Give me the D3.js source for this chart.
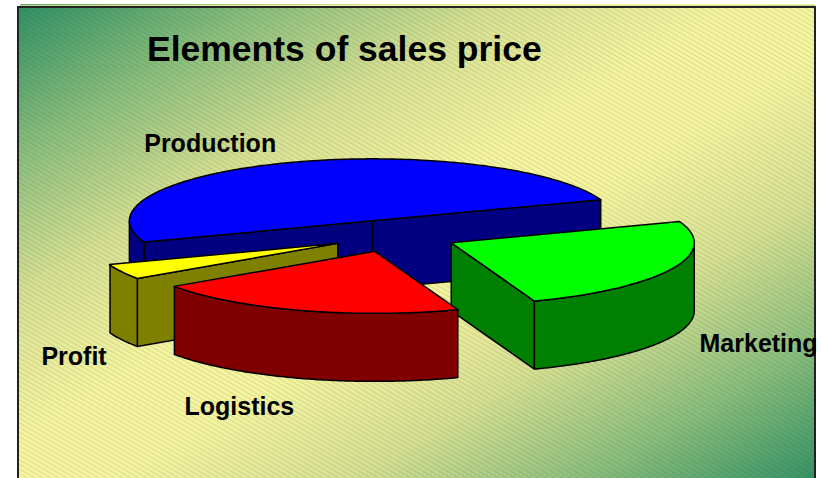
<!DOCTYPE html>
<html>
<head>
<meta charset="utf-8">
<script src="https://cdn.jsdelivr.net/npm/d3@7"></script>
<style>
  html, body { margin: 0; padding: 0; background: #fff; }
  svg { display: block; }
</style>
</head>
<body>
<div id="chart"></div>
<script>
// données
const categories = ["Production", "Marketing", "Logistics", "Profit"];
const values = [50, 25, 21, 4];
const title = "Elements of sales price";

// couleurs (dessus / côtés)
const topColors = ["#0000ff", "#00ff00", "#ff0000", "#ffff00"];
const sideColors = ["#000080", "#008000", "#800000", "#808000"];

// décalage des étiquettes (mise en page)
const labelNudge = [[-50, 1], [10, -3], [-35, 7], [28, 6]];

const width = 821;
const height = 478;

const svg = d3.select("#chart").append("svg")
  .attr("width", width)
  .attr("height", height);

const defs = svg.append("defs");

// dégradé du fond
const grad = defs.append("linearGradient")
  .attr("id", "bg")
  .attr("x1", 0).attr("y1", 0).attr("x2", 1).attr("y2", 1);
[[0, "#2f9064"], [0.15, "#88bd7c"], [0.3, "#d6e093"], [0.45, "#f5f5a0"],
 [0.55, "#f5f5a0"], [0.7, "#d6e093"], [0.85, "#88bd7c"], [1, "#2f9064"]]
  .forEach(s => grad.append("stop").attr("offset", s[0]).attr("stop-color", s[1]));

// hachures
const pat = defs.append("pattern")
  .attr("id", "hatch")
  .attr("width", 4).attr("height", 4)
  .attr("patternUnits", "userSpaceOnUse")
  .attr("patternTransform", "rotate(30)");
pat.append("line")
  .attr("x1", 0).attr("y1", 0).attr("x2", 4).attr("y2", 0)
  .attr("stroke", "rgba(60,60,40,0.28)")
  .attr("stroke-width", 1);

// cadre
svg.append("path")
  .attr("d", "M18,7 L21,4 L815,4 L815,7 Z")
  .attr("fill", "url(#bg)");
svg.append("rect")
  .attr("x", 18).attr("y", 7).attr("width", 797).attr("height", 480)
  .attr("fill", "url(#bg)");
svg.append("rect")
  .attr("x", 18).attr("y", 7).attr("width", 797).attr("height", 480)
  .attr("fill", "url(#hatch)")
  .attr("stroke", "#222")
  .attr("stroke-width", 2);

// titre
svg.append("text")
  .attr("x", 147).attr("y", 61)
  .attr("font-family", "'Liberation Sans', Arial, sans-serif")
  .attr("font-weight", "bold")
  .attr("font-size", 35.5)
  .text(title);

// géométrie du camembert 3D
const cx = 394, cy = 236;
const rx = 243, ry = 62, depth = 68;
const explode = 0.26;

const xs = d3.scaleLinear().domain([-1, 1]).range([-rx, rx]);
const ys = d3.scaleLinear().domain([-1, 1]).range([-ry, ry]);

const pie = d3.pie().sort(null)
  .startAngle(250 * Math.PI / 180)
  .endAngle(250 * Math.PI / 180 + 2 * Math.PI);

// angle d3 (depuis midi, sens horaire) -> angle écran (depuis 3h)
const toTheta = a => a - Math.PI / 2;

const slices = pie(values).map((d, i) => {
  const a = toTheta(d.startAngle), b = toTheta(d.endAngle);
  const mid = (a + b) / 2;
  const ox = cx + xs(explode * Math.cos(mid));
  const oy = cy + ys(explode * Math.sin(mid));
  return { i, a, b, mid, ox, oy, name: categories[i] };
});

const rim = (s, t, dz) => [s.ox + xs(Math.cos(t)), s.oy + ys(Math.sin(t)) + (dz || 0)];

function arcPts(s, t0, t1, dz) {
  const n = Math.max(2, Math.ceil(Math.abs(t1 - t0) / (Math.PI / 180)));
  return d3.range(n + 1).map(k => rim(s, t0 + (t1 - t0) * k / n, dz));
}

const line = d3.line();
const g = svg.append("g")
  .attr("stroke", "#000")
  .attr("stroke-width", 1.5)
  .attr("stroke-linejoin", "round");

// ordre d'affichage : de l'arrière vers l'avant
const order = slices.slice().sort((p, q) => Math.sin(p.mid) - Math.sin(q.mid));

order.forEach(s => {
  const side = sideColors[s.i], top = topColors[s.i];
  const c = [s.ox, s.oy], cd = [s.ox, s.oy + depth];

  // faces radiales visibles
  if (Math.cos(s.a) < 0) {
    g.append("path").attr("fill", side)
      .attr("d", line([c, rim(s, s.a), rim(s, s.a, depth), cd]) + "Z");
  }
  if (Math.cos(s.b) > 0) {
    g.append("path").attr("fill", side)
      .attr("d", line([c, rim(s, s.b), rim(s, s.b, depth), cd]) + "Z");
  }

  // paroi extérieure (partie avant)
  const step = Math.PI / 360;
  let run = [];
  const runs = [];
  for (let t = s.a; t <= s.b + 1e-9; t += step) {
    if (Math.sin(t) >= -1e-6) run.push(t);
    else if (run.length) { runs.push(run); run = []; }
  }
  if (run.length) runs.push(run);
  runs.forEach(r => {
    if (r.length < 2) return;
    const up = r.map(t => rim(s, t));
    const down = r.slice().reverse().map(t => rim(s, t, depth));
    g.append("path").attr("fill", side).attr("d", line(up.concat(down)) + "Z");
  });

  // dessus
  g.append("path").attr("fill", top)
    .attr("d", line([c].concat(arcPts(s, s.a, s.b))) + "Z");
});

// étiquettes
svg.append("g")
  .selectAll("text")
  .data(slices)
  .join("text")
  .attr("x", s => s.ox + xs(1.35 * Math.cos(s.mid)) + labelNudge[s.i][0])
  .attr("y", s => s.oy + ys(1.35 * Math.sin(s.mid)) + (Math.sin(s.mid) > 0 ? depth : 0) + labelNudge[s.i][1])
  .attr("text-anchor", "middle")
  .attr("dominant-baseline", "central")
  .attr("font-family", "'Liberation Sans', Arial, sans-serif")
  .attr("font-weight", "bold")
  .attr("font-size", 25)
  .text(s => s.name);
</script>
</body>
</html>
